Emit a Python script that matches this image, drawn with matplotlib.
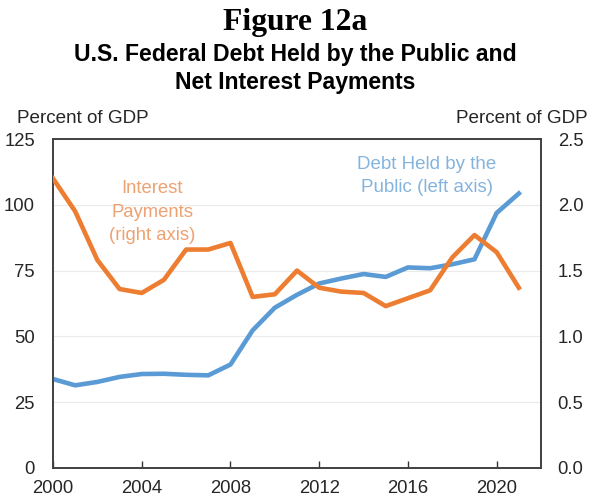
import matplotlib
matplotlib.use("Agg")
import matplotlib.pyplot as plt

years = list(range(2000, 2022))
debt = [33.8, 31.4, 32.7, 34.6, 35.7, 35.8, 35.4, 35.2, 39.3, 52.3, 60.9, 65.8,
        70.1, 72.0, 73.7, 72.6, 76.2, 75.9, 77.4, 79.3, 96.9, 104.3]
interest = [2.20, 1.95, 1.58, 1.36, 1.33, 1.43, 1.66, 1.66, 1.71, 1.30, 1.32, 1.50,
            1.37, 1.34, 1.33, 1.23, 1.29, 1.35, 1.60, 1.77, 1.64, 1.37]
left_ticks = [0, 25, 50, 75, 100, 125]
right_ticks = [0.0, 0.5, 1.0, 1.5, 2.0, 2.5]
x_ticks = [2000, 2004, 2008, 2012, 2016, 2020]

BLUE = "#5B9BD5"
ORANGE = "#ED7D31"
SANS = ["Liberation Sans", "DejaVu Sans"]
plt.rcParams["font.family"] = SANS

fig = plt.figure(figsize=(5.91, 4.97), dpi=100)
ax = fig.add_axes([0.0897, 0.0584, 0.8257, 0.6619])
ax2 = ax.twinx()

ax.set_xlim(2000, 2022)
ax.set_ylim(0, 125)
ax2.set_ylim(0, 2.5)

for v in left_ticks[1:]:
    ax.axhline(v, color="#EBEBEB", lw=0.8, zorder=0)

ax.plot(years, debt, color=BLUE, lw=3.3, solid_joinstyle="round", zorder=3)
ax2.plot(years, interest, color=ORANGE, lw=3.3, solid_joinstyle="round", zorder=3)

TFS = 13.3
ax.set_yticks(left_ticks)
ax.set_yticklabels([str(v) for v in left_ticks], fontsize=TFS, color="#262626")
ax2.set_yticks(right_ticks)
ax2.set_yticklabels([f"{v:.1f}" for v in right_ticks], fontsize=TFS, color="#262626")
ax.set_xticks(x_ticks)
ax.set_xticklabels([str(v) for v in x_ticks], fontsize=TFS, color="#262626")

ax.tick_params(axis="y", length=0, pad=13)
ax2.tick_params(axis="y", length=0, pad=12)
ax.tick_params(axis="x", direction="in", length=5, width=1, color="#333333", pad=9)

for a in (ax, ax2):
    for s in a.spines.values():
        s.set_color("#404040")
        s.set_linewidth(1.2)

fig.text(0.5, 0.955, "Figure 12a", ha="center", va="center", fontsize=22.8,
         fontweight="bold", family=["Liberation Serif", "DejaVu Serif"])
fig.text(0.5, 0.862, "U.S. Federal Debt Held by the Public and\nNet Interest Payments",
         ha="center", va="center", fontsize=16.6, fontweight="bold", linespacing=1.3)
fig.text(0.029, 0.761, "Percent of GDP", ha="left", va="center", fontsize=13.6, color="#262626")
fig.text(0.994, 0.761, "Percent of GDP", ha="right", va="center", fontsize=13.6, color="#262626")

ax.text(0.203, 0.778, "Interest\nPayments\n(right axis)", transform=ax.transAxes,
        ha="center", va="center", fontsize=13.3, color="#EEA272", linespacing=1.5)
ax.text(0.766, 0.8875, "Debt Held by the\nPublic (left axis)", transform=ax.transAxes,
        ha="center", va="center", fontsize=13.5, color="#84B4DE", linespacing=1.4)

fig.savefig("out.png", dpi=100)
